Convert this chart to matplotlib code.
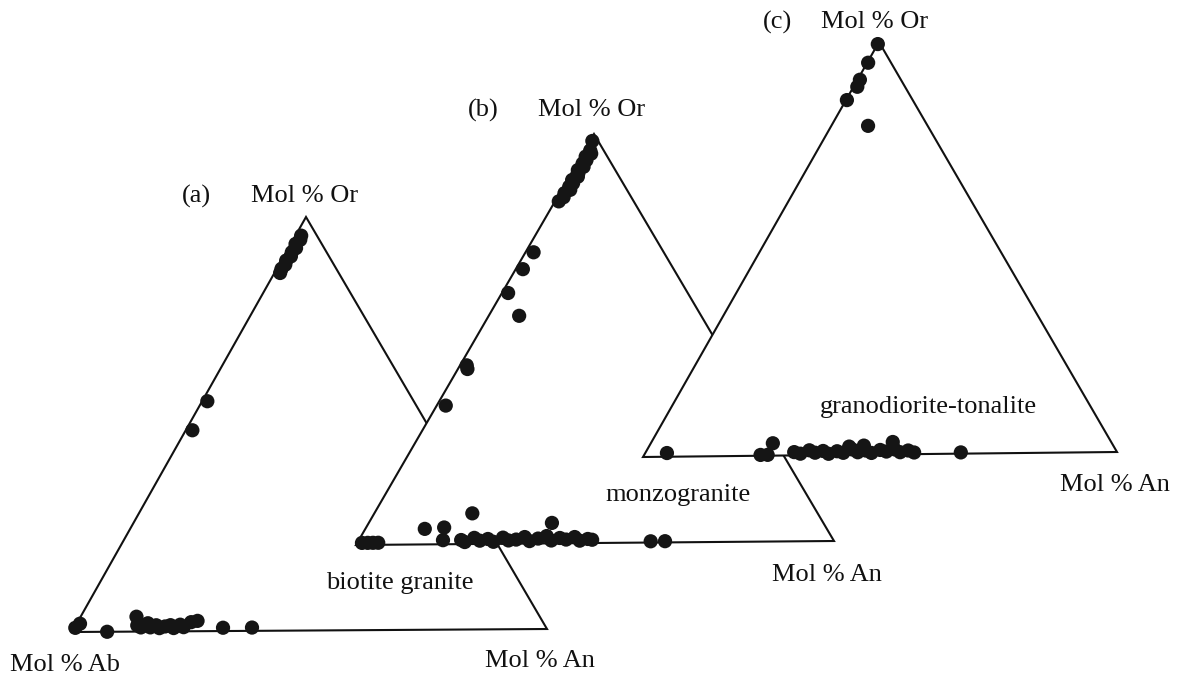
import numpy as np
import matplotlib
matplotlib.use("Agg")
import matplotlib.pyplot as plt

plt.rcParams['font.family'] = ['Liberation Serif', 'DejaVu Serif']

# Feldspar compositions (mol %): Or and An; Ab = 100 - Or - An
# (a) biotite granite
a_or = [95.5, 94.5, 93.5, 92.5, 91.5, 90.5, 89.5, 88.5, 87.5, 86.5,
        55.6, 48.6,
        2.0, 1.0, 0.0, 3.6, 1.5, 1.0, 2.0, 1.0, 1.5, 0.8, 1.2, 1.5, 0.8,
        1.6, 1.0, 2.2, 2.5, 0.8, 0.8]
a_an = [1.2, 1.5, 1.0, 1.6, 1.2, 1.5, 1.0, 1.3, 1.0, 1.2,
        1.1, 1.4,
        0.7, 0.2, 7.4, 11.8, 13.0, 14.0, 15.0, 16.0, 17.0, 18.0, 19.0, 20.0,
        21.0, 22.0, 23.0, 24.0, 25.2, 31.4, 37.5]

# (b) monzogranite
b_or = [98.3, 96.0, 95.2, 94.5, 93.6, 92.8, 92.0, 91.2, 90.4, 89.6, 88.8,
        88.0, 87.2, 86.4, 85.6, 84.6, 83.6,
        71.2, 67.1, 61.3, 55.7, 43.7, 42.8, 33.9,
        0.5, 0.5, 0.5, 0.5,
        3.8, 4.1, 1.0, 7.5, 5.0,
        1.0, 0.5, 1.5, 0.8, 1.2, 0.5, 1.5, 0.8, 1.0, 1.6, 0.6, 1.2, 1.8,
        0.7, 1.3, 0.9, 1.5, 0.6, 1.0, 0.8,
        0.3, 0.3]
b_an = [0.5, 1.2, 1.8, 1.0, 1.6, 1.2, 1.8, 1.0, 1.5, 1.8, 1.0,
        1.6, 1.2, 1.8, 1.0, 1.3, 0.8,
        1.7, 1.5, 1.3, 6.4, 1.4, 2.0, 1.9,
        1.0, 2.2, 3.3, 4.4,
        12.5, 16.4, 17.7, 20.6, 38.5,
        21.5, 22.5, 24.0, 25.5, 27.0, 28.5, 30.0, 31.5, 33.0, 34.5, 36.0,
        37.5, 39.0, 40.5, 42.0, 43.5, 45.0, 46.5, 48.0, 49.0,
        61.5, 64.5]

# (c) granodiorite-tonalite
c_or = [99.5, 95.0, 90.9, 89.2, 86.0, 79.7,
        0.9, 0.2, 0.2, 3.0, 3.0, 0.3,
        0.8, 0.4, 1.2, 0.6, 1.0, 0.3, 0.9, 0.5, 1.3, 0.6, 1.0, 0.4, 1.1,
        0.7, 1.2, 0.5, 0.9, 0.4, 2.0, 2.2]
c_an = [0.0, 0.2, 0.5, 0.8, 0.2, 7.8,
        4.6, 24.7, 26.2, 25.9, 51.2, 66.9,
        31.5, 33.0, 34.5, 36.0, 37.5, 39.0, 40.5, 42.0, 43.5, 45.0, 46.5,
        48.0, 49.5, 51.0, 52.5, 54.0, 55.5, 57.0, 42.5, 45.5]

panels = [
    dict(tag="(a)", rock="biotite granite", or_=a_or, an=a_an,
         ab_v=(72, 632), an_v=(547, 629), or_v=(306, 217),
         tag_xy=(196, 196), or_xy=(305, 196), ab_xy=(65, 665),
         an_xy=(540, 661), rock_xy=(400, 583)),
    dict(tag="(b)", rock="monzogranite", or_=b_or, an=b_an,
         ab_v=(356, 545), an_v=(834, 541), or_v=(594, 134),
         tag_xy=(483, 110), or_xy=(592, 110), ab_xy=None,
         an_xy=(827, 575), rock_xy=(678, 495)),
    dict(tag="(c)", rock="granodiorite-tonalite", or_=c_or, an=c_an,
         ab_v=(643, 457), an_v=(1117, 452), or_v=(879, 42),
         tag_xy=(778, 22), or_xy=(875, 22), ab_xy=None,
         an_xy=(1115, 485), rock_xy=(928, 407)),
]

fig = plt.figure(figsize=(11.77, 6.80), dpi=100)
ax = fig.add_axes([0, 0, 1, 1])
ax.set_xlim(0, 1177)
ax.set_ylim(680, 0)
ax.axis("off")

fs = 19
for i, p in enumerate(panels):
    z = 2 * i + 1
    A = np.array(p["ab_v"], float)
    N = np.array(p["an_v"], float)
    O = np.array(p["or_v"], float)
    tri = np.array([A, N, O])
    ax.fill(tri[:, 0], tri[:, 1], facecolor="white", edgecolor="#111111",
            linewidth=1.5, joinstyle="miter", zorder=z)
    f_or = np.array(p["or_"]) / 100.0
    f_an = np.array(p["an"]) / 100.0
    f_ab = 1.0 - f_or - f_an
    pts = np.outer(f_ab, A) + np.outer(f_an, N) + np.outer(f_or, O)
    ax.scatter(pts[:, 0], pts[:, 1], s=105, color="#151515",
               edgecolors="none", zorder=z + 0.5)

    ax.text(*p["tag_xy"], p["tag"], fontsize=fs, ha="center", va="center",
            color="#111111", zorder=10)
    ax.text(*p["or_xy"], "Mol % Or", fontsize=fs, ha="center", va="center",
            color="#111111", zorder=10)
    if p["ab_xy"] is not None:
        ax.text(*p["ab_xy"], "Mol % Ab", fontsize=fs, ha="center",
                va="center", color="#111111", zorder=10)
    ax.text(*p["an_xy"], "Mol % An", fontsize=fs, ha="center", va="center",
            color="#111111", zorder=10)
    ax.text(*p["rock_xy"], p["rock"], fontsize=fs, ha="center", va="center",
            color="#111111", zorder=10)

fig.savefig("out.png", dpi=100, facecolor="white")
